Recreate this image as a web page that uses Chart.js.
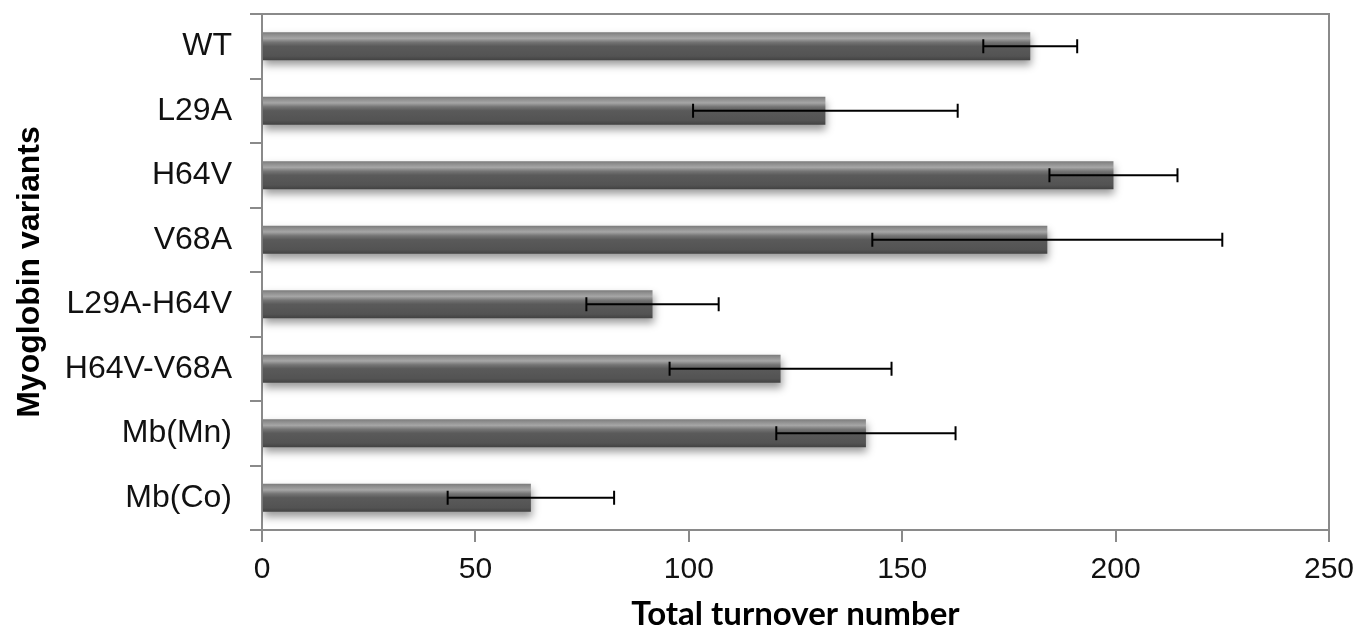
<!DOCTYPE html>
<html>
<head>
<meta charset="utf-8">
<script src="https://cdn.jsdelivr.net/npm/chart.js@4/dist/chart.umd.min.js"></script>
<style>
html,body{margin:0;padding:0;background:#fff;}
#wrap{width:1358px;height:631px;position:relative;}
</style>
</head>
<body>
<div id="wrap"><canvas id="c" width="1358" height="631"></canvas></div>
<script>
const categories = ["WT", "L29A", "H64V", "V68A", "L29A-H64V", "H64V-V68A", "Mb(Mn)", "Mb(Co)"];
const turnover = [180, 132, 199.5, 184, 91.5, 121.5, 141.5, 63];
const turnoverError = [11, 31, 15, 41, 15.5, 26, 21, 19.5];
const xTicks = [0, 50, 100, 150, 200, 250];

const AXIS_COLOR = '#8a8a8a';
const BAR_PCT = 0.435;

function barGradient(context) {
  const chart = context.chart;
  const yScale = chart.scales && chart.scales.y;
  if (!yScale || context.dataIndex === undefined) return '#555';
  const yc = yScale.getPixelForValue(context.dataIndex);
  const band = (yScale.bottom - yScale.top) / categories.length;
  const h = band * BAR_PCT;
  if (!isFinite(yc) || !isFinite(h) || h <= 0) return '#555';
  const g = chart.ctx.createLinearGradient(0, yc - h / 2, 0, yc + h / 2);
  g.addColorStop(0.00, '#7a7a7a');
  g.addColorStop(0.08, '#8c8c8c');
  g.addColorStop(0.22, '#a6a6a6');
  g.addColorStop(0.36, '#747474');
  g.addColorStop(0.50, '#5a5a5a');
  g.addColorStop(0.85, '#535353');
  g.addColorStop(1.00, '#424242');
  return g;
}

const shadowPlugin = {
  id: 'barShadow',
  beforeDatasetsDraw(chart) {
    const ctx = chart.ctx;
    ctx.save();
    ctx.shadowColor = 'rgba(0,0,0,0.4)';
    ctx.shadowBlur = 8;
    ctx.shadowOffsetX = 1;
    ctx.shadowOffsetY = 5;
  },
  afterDatasetsDraw(chart) {
    chart.ctx.restore();
  }
};

const errorBarPlugin = {
  id: 'errorBars',
  afterDatasetsDraw(chart) {
    const ctx = chart.ctx;
    const xScale = chart.scales.x;
    const meta = chart.getDatasetMeta(0);
    ctx.save();
    ctx.strokeStyle = '#000';
    ctx.lineWidth = 2;
    meta.data.forEach((el, i) => {
      const v = turnover[i], e = turnoverError[i];
      const x1 = xScale.getPixelForValue(v - e);
      const x2 = xScale.getPixelForValue(v + e);
      const y = el.y;
      const cap = 7;
      ctx.beginPath();
      ctx.moveTo(x1, y); ctx.lineTo(x2, y);
      ctx.moveTo(x1, y - cap); ctx.lineTo(x1, y + cap);
      ctx.moveTo(x2, y - cap); ctx.lineTo(x2, y + cap);
      ctx.stroke();
    });
    ctx.restore();
  }
};

const framePlugin = {
  id: 'frame',
  afterDraw(chart) {
    const {ctx, chartArea} = chart;
    ctx.save();
    ctx.strokeStyle = AXIS_COLOR;
    ctx.lineWidth = 2;
    ctx.beginPath();
    ctx.moveTo(chartArea.left, chartArea.top);
    ctx.lineTo(chartArea.right, chartArea.top);
    ctx.lineTo(chartArea.right, chartArea.bottom);
    ctx.stroke();
    ctx.restore();
  }
};

new Chart(document.getElementById('c'), {
  type: 'bar',
  data: {
    labels: categories,
    datasets: [{
      data: turnover,
      backgroundColor: barGradient,
      borderWidth: 0,
      barPercentage: BAR_PCT,
      categoryPercentage: 1.0
    }]
  },
  options: {
    indexAxis: 'y',
    responsive: false,
    animation: false,
    devicePixelRatio: 1,
    layout: { padding: { top: 14, right: 29, left: 0, bottom: 0 } },
    plugins: { legend: { display: false }, tooltip: { enabled: false } },
    scales: {
      x: {
        min: 0, max: 250,
        afterFit(scale) { scale.height = 101; scale.paddingLeft = 0; scale.paddingRight = 0; },
        afterBuildTicks(scale) { scale.ticks = xTicks.map(v => ({ value: v })); },
        grid: { drawOnChartArea: false, drawTicks: true, tickLength: 12, color: AXIS_COLOR, lineWidth: 2 },
        border: { display: true, color: AXIS_COLOR, width: 2 },
        ticks: { color: '#111', padding: 10, font: { family: 'Liberation Sans, Arial, sans-serif', size: 30 }, maxRotation: 0 },
        title: {
          display: true, text: 'Total turnover number', color: '#000',
          font: { family: 'Lato, sans-serif', size: 33, weight: 'bold', lineHeight: 1.0 },
          padding: { top: 0, bottom: 0 }
        }
      },
      y: {
        afterFit(scale) { scale.width = 262; scale.paddingTop = 0; scale.paddingBottom = 0; },
        grid: { offset: true, drawOnChartArea: false, drawTicks: true, tickLength: 12, color: AXIS_COLOR, lineWidth: 2 },
        border: { display: true, color: AXIS_COLOR, width: 2 },
        ticks: { color: '#111', padding: 18, font: { family: 'Liberation Sans, Arial, sans-serif', size: 32 } },
        title: {
          display: true, text: 'Myoglobin variants', color: '#000',
          font: { family: 'Liberation Sans, Arial, sans-serif', size: 32, weight: 'bold', lineHeight: 1.2 },
          padding: { top: 11, bottom: 0 }
        }
      }
    }
  },
  plugins: [shadowPlugin, errorBarPlugin, framePlugin]
});
</script>
</body>
</html>
